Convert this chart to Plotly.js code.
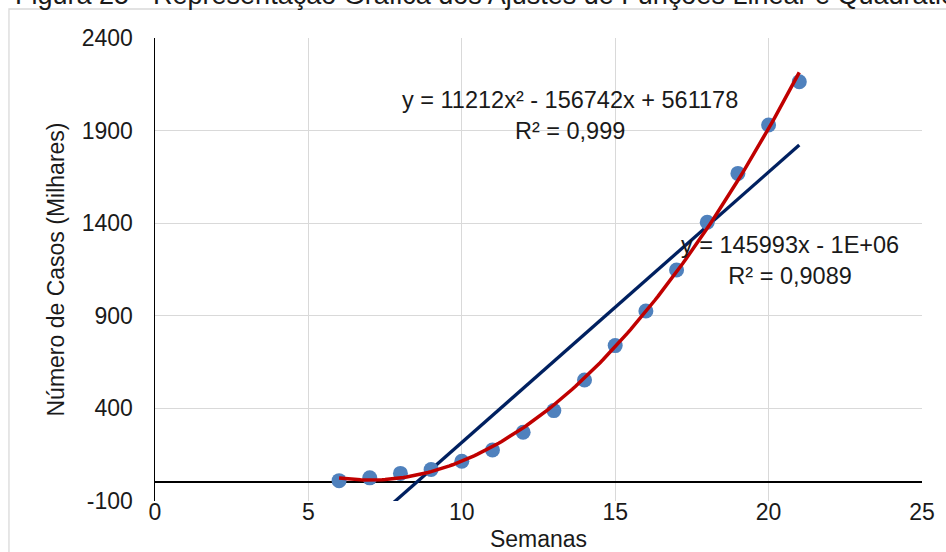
<!DOCTYPE html>
<html>
<head>
<meta charset="utf-8">
<script src="https://cdn.plot.ly/plotly-3.0.1.min.js"></script>
<style>
  html, body { margin: 0; padding: 0; background: #ffffff; }
  #chart { width: 946px; height: 552px; }
</style>
</head>
<body>
<div id="chart"></div>
<script>
// Semanas e número de casos acumulados (milhares)
const semanas = [6, 7, 8, 9, 10, 11, 12, 13, 14, 15, 16, 17, 18, 19, 20, 21];
const casos = [10, 25, 49, 70, 115, 175, 271, 388, 553, 739, 926, 1147, 1405, 1669, 1930, 2164];

// Coeficientes das linhas de tendência (em casos; divididos por 1000 ao desenhar)
const quadA = 11212;
const quadB = -156742;
const quadC = 561178;
const quadR2 = '0,999';
const linSlope = 145993;
const linR2 = '0,9089';

const yTicks = [-100, 400, 900, 1400, 1900, 2400];
const xTicks = [0, 5, 10, 15, 20, 25];

const FONT = 'Liberation Sans, Arial, sans-serif';
const TXT = '#1a1a1a';

// Linha de tendência linear: inclinação da equação, passando pelo ponto médio dos dados
const meanX = semanas.reduce((s, v) => s + v, 0) / semanas.length;
const meanY = casos.reduce((s, v) => s + v, 0) / casos.length;
const linIntercept = meanY * 1000 - linSlope * meanX;

const xMin = Math.min(...semanas);
const xMax = Math.max(...semanas);

const linX = [xMin, xMax];
const linY = linX.map(x => (linSlope * x + linIntercept) / 1000);

const quadX = [];
const quadY = [];
for (let i = 0; i <= 150; i++) {
  const x = xMin + (xMax - xMin) * i / 150;
  quadX.push(x);
  quadY.push((quadA * x * x + quadB * x + quadC) / 1000);
}

const traces = [
  {
    x: linX, y: linY, type: 'scatter', mode: 'lines',
    line: { color: '#002060', width: 3.3 }, hoverinfo: 'skip'
  },
  {
    x: semanas, y: casos, type: 'scatter', mode: 'markers',
    marker: { color: '#4F81BD', size: 15 }
  },
  {
    x: quadX, y: quadY, type: 'scatter', mode: 'lines',
    line: { color: '#C00000', width: 3.5 }, hoverinfo: 'skip'
  }
];

const fmtSigned = v => (v < 0 ? ' - ' : ' + ') + Math.abs(v);
const quadLabel = 'y = ' + quadA + 'x²' + fmtSigned(quadB) + 'x' + fmtSigned(quadC) +
  '<br>R² = ' + quadR2;
const linLabel = 'y = ' + linSlope + 'x - 1E+06<br>R² = ' + linR2;

const layout = {
  width: 946,
  height: 552,
  margin: { l: 155, r: 24, t: 38, b: 51 },
  paper_bgcolor: '#ffffff',
  plot_bgcolor: '#ffffff',
  showlegend: false,
  font: { family: FONT, size: 23, color: TXT },
  xaxis: {
    range: [0, 25],
    tickvals: xTicks,
    ticktext: xTicks.map(String),
    showgrid: true,
    gridcolor: '#d9d9d9',
    gridwidth: 1.3,
    zeroline: false,
    showline: false,
    ticks: '',
    ticklabelstandoff: -5,
    tickfont: { family: FONT, size: 23, color: TXT },
    title: { text: 'Semanas', font: { family: FONT, size: 23, color: TXT }, standoff: 8 },
    automargin: false,
    fixedrange: true
  },
  yaxis: {
    range: [-100, 2400],
    tickvals: yTicks,
    ticktext: yTicks.map(String),
    showgrid: true,
    gridcolor: '#d9d9d9',
    gridwidth: 1.3,
    zeroline: true,
    zerolinecolor: '#000000',
    zerolinewidth: 2,
    showline: true,
    linecolor: '#000000',
    linewidth: 1.5,
    ticks: '',
    ticklabelstandoff: 16,
    tickfont: { family: FONT, size: 23, color: TXT },
    title: { text: 'Número de Casos (Milhares)', font: { family: FONT, size: 23, color: TXT }, standoff: 10 },
    automargin: false,
    fixedrange: true
  },
  shapes: [
    {
      type: 'rect', xref: 'paper', yref: 'paper', layer: 'below',
      x0: -0.1904, x1: 1.06, y0: -0.16, y1: 1.0626,
      line: { color: '#d9d9d9', width: 1.3 }, fillcolor: 'rgba(0,0,0,0)'
    }
  ],
  annotations: [
    {
      text: 'Figura 25 - Representação Gráfica dos Ajustes de Funções Linear e Quadrática',
      xref: 'paper', yref: 'paper', x: -0.1851, y: 1.092,
      xanchor: 'left', yanchor: 'middle', showarrow: false,
      font: { family: FONT, size: 27, color: TXT }
    },
    {
      text: quadLabel,
      xref: 'x', yref: 'y', x: 13.53, y: 1981,
      xanchor: 'center', yanchor: 'middle', showarrow: false, align: 'center',
      font: { family: FONT, size: 23.5, color: TXT }
    },
    {
      text: linLabel,
      xref: 'x', yref: 'y', x: 20.7, y: 1201,
      xanchor: 'center', yanchor: 'middle', showarrow: false, align: 'center',
      font: { family: FONT, size: 23.5, color: TXT }
    }
  ]
};

Plotly.newPlot('chart', traces, layout, { displayModeBar: false, staticPlot: true });
</script>
</body>
</html>
